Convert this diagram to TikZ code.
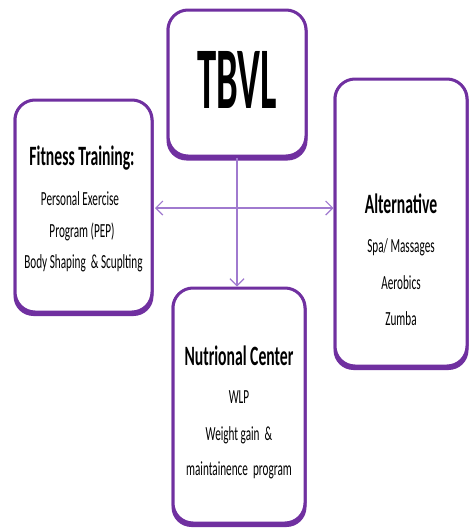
\documentclass[tikz,border=0pt]{standalone}
\usepackage{fontspec}
\setmainfont{Carlito}
\usetikzlibrary{arrows.meta}
\definecolor{boxpurple}{HTML}{7030A0}
\definecolor{arrowpurple}{HTML}{A07ACF}
\newcommand{\sqz}[1]{\scalebox{0.56}[1]{#1}}
\tikzset{
  box/.style={draw=boxpurple, line width=3pt, rounded corners=20pt, fill=white, inner sep=0pt},
  shadowbox/.style={fill=boxpurple, rounded corners=20pt, inner sep=0pt},
  title/.style={anchor=base, inner sep=0pt, font=\bfseries\fontsize{28}{30}\selectfont},
  item/.style={anchor=base, inner sep=0pt, font=\fontsize{20}{22}\selectfont},
  conn/.style={draw=arrowpurple, line width=1.5pt, -{Straight Barb[length=7pt,width=14pt,line width=1.2pt]}},
}
\begin{document}
\begin{tikzpicture}[x=1pt,y=-1pt]
\useasboundingbox (0,0) rectangle (469,528);
% shadows (thicker bottom edge)
\node[shadowbox, minimum width=141pt, minimum height=150pt] (tbvlsh) at (237,85.5) {};
\node[shadowbox, minimum width=140pt, minimum height=216pt] (fitsh) at (83.5,208) {};
\node[shadowbox, minimum width=135pt, minimum height=291pt] (altsh) at (401,224.5) {};
\node[shadowbox, minimum width=135pt, minimum height=239pt] (nutsh) at (239,407.5) {};
% boxes
\node[box, minimum width=138pt, minimum height=146pt] (tbvl) at (237,83) {};
\node[box, minimum width=137pt, minimum height=212pt] (fit) at (83.5,206) {};
\node[box, minimum width=132pt, minimum height=287pt] (alt) at (401,222.5) {};
\node[box, minimum width=132pt, minimum height=235pt] (nut) at (239,405.5) {};
% connectors
\draw[conn, {Straight Barb[length=7pt,width=14pt,line width=1.2pt]}-{Straight Barb[length=7pt,width=14pt,line width=1.2pt]}] (fit.east) ++(1.5,2) coordinate (hl) -- (hl -| alt.west) coordinate (hr);
\draw[conn] (tbvl.south) -- (tbvl.south |- nut.north);
% texts
\node[anchor=base, inner sep=0pt, font=\bfseries\fontsize{88}{90}\selectfont] (tbvltext) at (237,108) {\scalebox{0.44}[1]{TBVL}};
\node[title] (fittitle) at (82,165) {\sqz{Fitness Training:}};
\node[item] (fit1) at (80,205) {\sqz{Personal Exercise}};
\node[item] (fit2) at (82,237) {\sqz{Program (PEP)}};
\node[item] (fit3) at (83.5,268) {\sqz{Body Shaping \ \& Scuplting}};
\node[title] (alttitle) at (401,213) {\sqz{Alternative}};
\node[item] (alt1) at (401,252) {\sqz{Spa/ Massages}};
\node[item] (alt2) at (401,289) {\sqz{Aerobics}};
\node[item] (alt3) at (401,325) {\sqz{Zumba}};
\node[title] (nuttitle) at (239,365) {\sqz{Nutrional Center}};
\node[item] (nut1) at (239,403) {\sqz{WLP}};
\node[item] (nut2) at (239,440) {\sqz{Weight gain \ \&}};
\node[item] (nut3) at (239,475) {\sqz{maintainence \ program}};
\end{tikzpicture}
\end{document}
